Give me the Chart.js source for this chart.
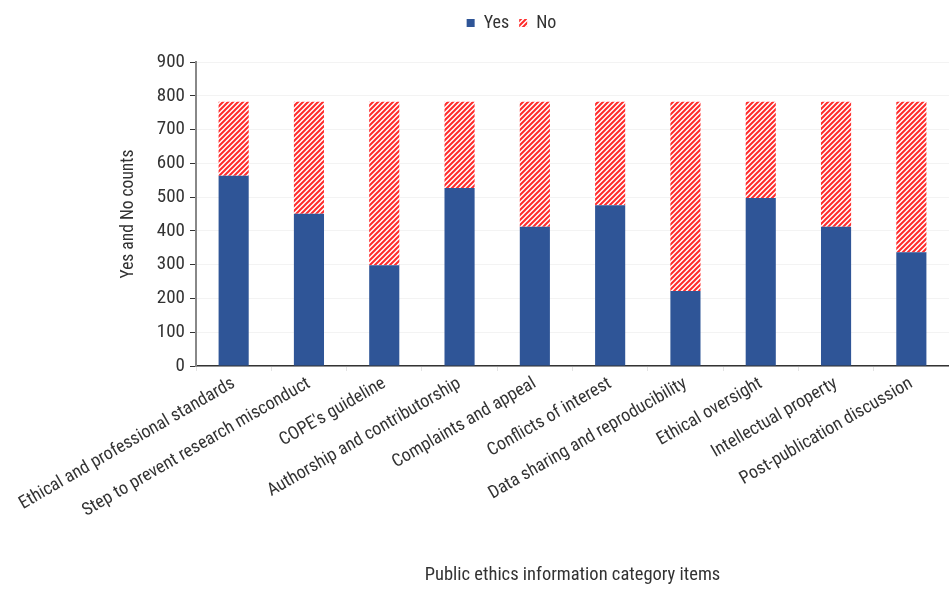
<!DOCTYPE html>
<html>
<head>
<meta charset="utf-8">
<script src="https://cdn.jsdelivr.net/npm/chart.js@4.4.1/dist/chart.umd.min.js"></script>
<style>
html,body{margin:0;padding:0;background:#fff;}
#wrap{width:949px;height:590px;position:relative;}
</style>
</head>
<body>
<div id="wrap"><canvas id="c" width="949" height="590"></canvas></div>
<script>
const categories = [
  "Ethical and professional standards",
  "Step to prevent research misconduct",
  "COPE's guideline",
  "Authorship and contributorship",
  "Complaints and appeal",
  "Conflicts of interest",
  "Data sharing and reproducibility",
  "Ethical oversight",
  "Intellectual property",
  "Post-publication discussion"
];
const yesCounts = [563, 451, 298, 527, 412, 476, 222, 497, 412, 337];
const noCounts  = [219, 331, 484, 255, 370, 306, 560, 285, 370, 445];
const yTicks = [0, 100, 200, 300, 400, 500, 600, 700, 800, 900];

const FONT = "'Roboto Condensed', 'Liberation Sans Narrow', Roboto, sans-serif";

function hatch() {
  const s = 5;
  const c = document.createElement('canvas');
  c.width = s; c.height = s;
  const g = c.getContext('2d');
  g.fillStyle = '#ffffff';
  g.fillRect(0, 0, s, s);
  g.strokeStyle = '#ff2b2b';
  g.lineWidth = 2;
  g.beginPath();
  g.moveTo(-1, s + 1); g.lineTo(s + 1, -1);
  g.moveTo(-1, 1); g.lineTo(1, -1);
  g.moveTo(s - 1, s + 1); g.lineTo(s + 1, s - 1);
  g.stroke();
  return g.createPattern(c, 'repeat');
}
const ctx = document.getElementById('c').getContext('2d');

const legendSpace = {
  id: 'legendSpace',
  beforeInit(chart) {
    const fit = chart.legend.fit;
    chart.legend.fit = function () { fit.call(this); this.height += 20; };
  },
  afterLayout(chart) {
    chart.legend.left -= 22;
    chart.legend.right -= 22;
  }
};

new Chart(ctx, {
  type: 'bar',
  data: {
    labels: categories,
    datasets: [
      { label: 'Yes', data: yesCounts, backgroundColor: '#2f5597', borderWidth: 0,
        categoryPercentage: 1, barPercentage: 0.4 },
      { label: 'No', data: noCounts, backgroundColor: hatch(), borderWidth: 0,
        categoryPercentage: 1, barPercentage: 0.4 }
    ]
  },
  plugins: [legendSpace],
  options: {
    responsive: false,
    animation: false,
    devicePixelRatio: 1,
    layout: { padding: { left: 118, right: 0, top: 4, bottom: 4 } },
    plugins: {
      tooltip: { enabled: false },
      legend: {
        position: 'top',
        labels: {
          boxWidth: 8, boxHeight: 8, padding: 10,
          color: '#333', font: { family: FONT, size: 18 }
        }
      }
    },
    scales: {
      x: {
        stacked: true,
        border: { color: '#333', width: 1.5 },
        grid: { drawOnChartArea: false, tickColor: '#e4e4e4', tickLength: 5, offset: true },
        ticks: { minRotation: 30, maxRotation: 30, autoSkip: false, color: '#333', padding: 2,
                 font: { family: FONT, size: 18 } },
        title: { display: true, text: 'Public ethics information category items', color: '#333',
                 font: { family: FONT, size: 18.5 }, padding: { top: 10, bottom: 0 } },
        afterFit: (s) => { s.height = 220; }
      },
      y: {
        stacked: true,
        min: 0, max: 900,
        afterBuildTicks: (s) => { s.ticks = yTicks.map(v => ({ value: v })); },
        border: { color: '#888', width: 2 },
        grid: { color: '#f3f3f3', tickColor: '#333', tickLength: 6 },
        ticks: { color: '#333', padding: 5, font: { family: FONT, size: 19 } },
        title: { display: true, text: 'Yes and No counts', color: '#333',
                 font: { family: FONT, size: 17.5 }, padding: { top: 0, bottom: 4 } },
        afterFit: (s) => { s.width = 78; }
      }
    }
  }
});
</script>
</body>
</html>
